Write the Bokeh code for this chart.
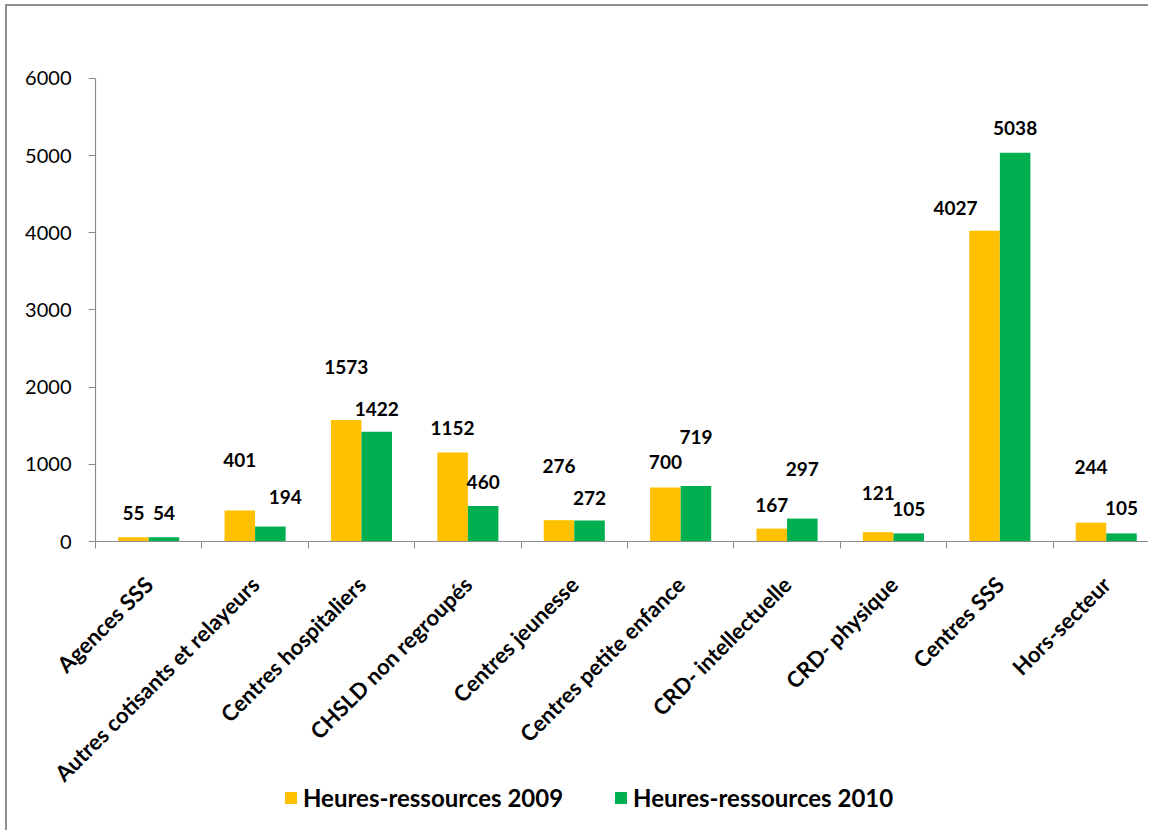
from bokeh.plotting import figure
from bokeh.models import (ColumnDataSource, Range1d, FixedTicker, Legend, LegendItem)
from bokeh.core.properties import value
from bokeh.embed import file_html
from bokeh.resources import INLINE

# ---- data ----
categories = ["Agences SSS", "Autres cotisants et relayeurs", "Centres hospitaliers",
              "CHSLD non regroupés", "Centres jeunesse", "Centres petite enfance",
              "CRD- intellectuelle", "CRD- physique", "Centres SSS", "Hors-secteur"]
hours_2009 = [55, 401, 1573, 1152, 276, 700, 167, 121, 4027, 244]
hours_2010 = [54, 194, 1422, 460, 272, 719, 297, 105, 5038, 105]
series_names = ["Heures-ressources 2009", "Heures-ressources 2010"]
y_ticks = [0, 1000, 2000, 3000, 4000, 5000, 6000]

# ---- styles (label placement in screen pixels, as in the original) ----
C2009 = "#FFC000"
C2010 = "#00B050"
AXIS_C = "#8c8c8c"
BAR_W = 0.287
lab_dy_2009 = [24, 51, 53, 25, 54, 25, 24, 39, 23, 56]
lab_dy_2010 = [24, 30, 23, 24, 23, 49, 50, 24, 25, 25]
lab_dx_2009 = [0, 0, 0, 0, 0, 0, 0, 0, -29, 0]
lab_dx_2010 = [0, 15, 0, 0, 0, 0, 0, 0, 0, 0]
FONT = "Lato"

n = len(categories)
centers = [i + 0.5 for i in range(n)]
x09 = [c - BAR_W / 2 for c in centers]
x10 = [c + BAR_W / 2 for c in centers]

src09 = ColumnDataSource(dict(x=x09, top=hours_2009, lab=[str(v) for v in hours_2009],
                              dx=lab_dx_2009, dy=[-d for d in lab_dy_2009]))
src10 = ColumnDataSource(dict(x=x10, top=hours_2010, lab=[str(v) for v in hours_2010],
                              dx=lab_dx_2010, dy=[-d for d in lab_dy_2010]))

# frame fills the figure; axes are pinned at x = 0 and y = 0 inside it
p = figure(width=1143, height=826, output_backend="svg", toolbar_location=None,
           x_range=Range1d(-0.827, 9.916), y_range=Range1d(-3771, 6933),
           min_border_left=0, min_border_top=0, min_border_right=0, min_border_bottom=0)
p.styles = {"border-left": "2px solid #8f8f8f", "border-top": "2px solid #8f8f8f",
            "margin-left": "5px", "margin-top": "4px"}
p.outline_line_color = None
p.grid.visible = False
p.background_fill_color = "white"
p.border_fill_color = "white"

r09 = p.vbar(x="x", top="top", width=BAR_W, bottom=0, source=src09,
             fill_color=C2009, line_color=None)
r10 = p.vbar(x="x", top="top", width=BAR_W, bottom=0, source=src10,
             fill_color=C2010, line_color=None)

for src in (src09, src10):
    p.text(x="x", y="top", text="lab", source=src, x_offset="dx", y_offset="dy",
           text_align="center", text_baseline="middle",
           text_font=value(FONT), text_font_style="bold", text_font_size="19px",
           text_color="black")

# y axis at x = 0
yax = p.yaxis[0]
yax.fixed_location = 0
yax.ticker = FixedTicker(ticks=y_ticks)
yax.bounds = (0, 6000)
yax.axis_line_color = AXIS_C
yax.axis_line_width = 1.2
yax.major_tick_line_color = AXIS_C
yax.major_tick_out = 7
yax.major_tick_in = 0
yax.minor_tick_line_color = None
yax.major_label_text_font = FONT
yax.major_label_text_font_size = "20px"
yax.major_label_text_color = "black"
yax.major_label_standoff = 17

# x axis at y = 0: labels at category centres, ticks at category boundaries
xax = p.xaxis[0]
xax.fixed_location = 0
xax.bounds = (0, n)
xax.ticker = FixedTicker(ticks=centers, minor_ticks=[float(i) for i in range(n + 1)])
xax.major_label_overrides = {c: categories[i] for i, c in enumerate(centers)}
xax.major_tick_line_color = None
xax.major_tick_out = 0
xax.major_tick_in = 0
xax.minor_tick_line_color = AXIS_C
xax.minor_tick_out = 7
xax.minor_tick_in = 0
xax.axis_line_color = AXIS_C
xax.axis_line_width = 1.2
xax.major_label_orientation = 0.785398
xax.major_label_text_font = FONT
xax.major_label_text_font_style = "bold"
xax.major_label_text_font_size = "22px"
xax.major_label_text_color = "black"
xax.major_label_standoff = 32

legend = Legend(items=[LegendItem(label=series_names[0], renderers=[r09]),
                       LegendItem(label=series_names[1], renderers=[r10])],
                orientation="horizontal", location=(276, 20),
                label_text_font=FONT, label_text_font_style="bold",
                label_text_font_size="24px", label_text_color="black",
                glyph_width=15, glyph_height=15, label_standoff=5, spacing=50,
                padding=0, margin=0, border_line_color=None,
                background_fill_alpha=0, label_height=15)
p.add_layout(legend, "center")

open("out.html", "w").write(file_html(p, INLINE))
